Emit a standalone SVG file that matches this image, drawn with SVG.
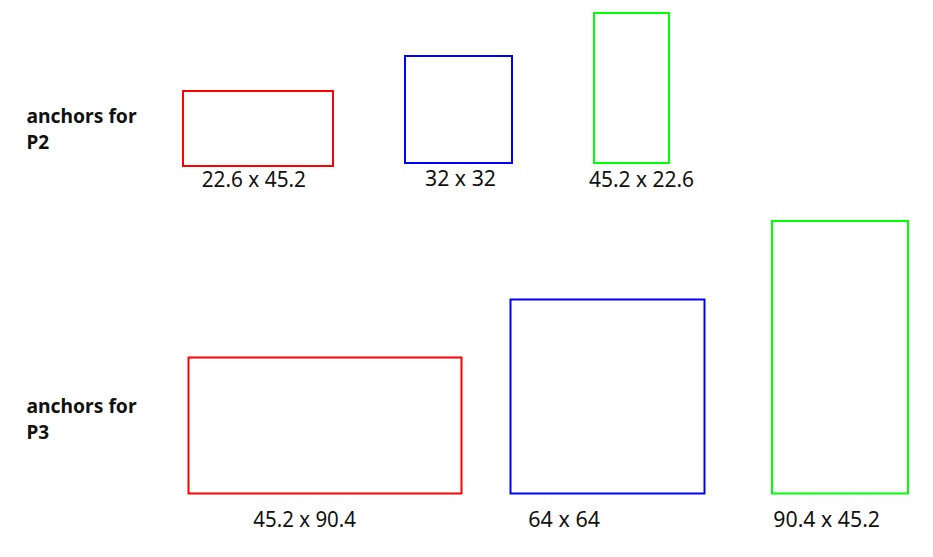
<svg xmlns="http://www.w3.org/2000/svg" width="933" height="557" viewBox="0 0 933 557">
<style>
.box{fill:none;stroke-width:2}
.r{stroke:#ff0000}
.b{stroke:#0000ff}
.g{stroke:#00ff00}
.lbl{font-family:"Noto Sans","Open Sans",sans-serif;font-size:21px;fill:#111}
.hd{font-family:"Noto Sans","Open Sans",sans-serif;font-size:19px;font-weight:bold;fill:#111}
</style>
<rect width="933" height="557" fill="#ffffff"/>
<g id="title-p2"><text class="hd" x="26.5" y="123.3" textLength="110" lengthAdjust="spacingAndGlyphs">anchors for</text><text class="hd" x="26.5" y="149.3">P2</text></g>
<g id="title-p3"><text class="hd" x="26.5" y="413" textLength="110" lengthAdjust="spacingAndGlyphs">anchors for</text><text class="hd" x="26.5" y="439">P3</text></g>
<g id="p2-red"><rect class="box r" x="183" y="91" width="150" height="75"/><text class="lbl" x="201.7" y="186.7" textLength="104.3" lengthAdjust="spacingAndGlyphs">22.6 x 45.2</text></g>
<g id="p2-blue"><rect class="box b" x="405" y="56" width="107" height="107"/><text class="lbl" x="425" y="186" textLength="71" lengthAdjust="spacingAndGlyphs">32 x 32</text></g>
<g id="p2-green"><rect class="box g" x="594" y="13" width="75" height="150"/><text class="lbl" x="589" y="186.5" textLength="105" lengthAdjust="spacingAndGlyphs">45.2 x 22.6</text></g>
<g id="p3-red"><rect class="box r" x="188.5" y="357.5" width="273" height="136"/><text class="lbl" x="253.3" y="526.7" textLength="102.7" lengthAdjust="spacingAndGlyphs">45.2 x 90.4</text></g>
<g id="p3-blue"><rect class="box b" x="510.5" y="299.5" width="194" height="194"/><text class="lbl" x="528.3" y="526.7" textLength="71.7" lengthAdjust="spacingAndGlyphs">64 x 64</text></g>
<g id="p3-green"><rect class="box g" x="772" y="221" width="136" height="272.5"/><text class="lbl" x="773.3" y="527" textLength="106.7" lengthAdjust="spacingAndGlyphs">90.4 x 45.2</text></g>
<g id="connectors"/>
</svg>
